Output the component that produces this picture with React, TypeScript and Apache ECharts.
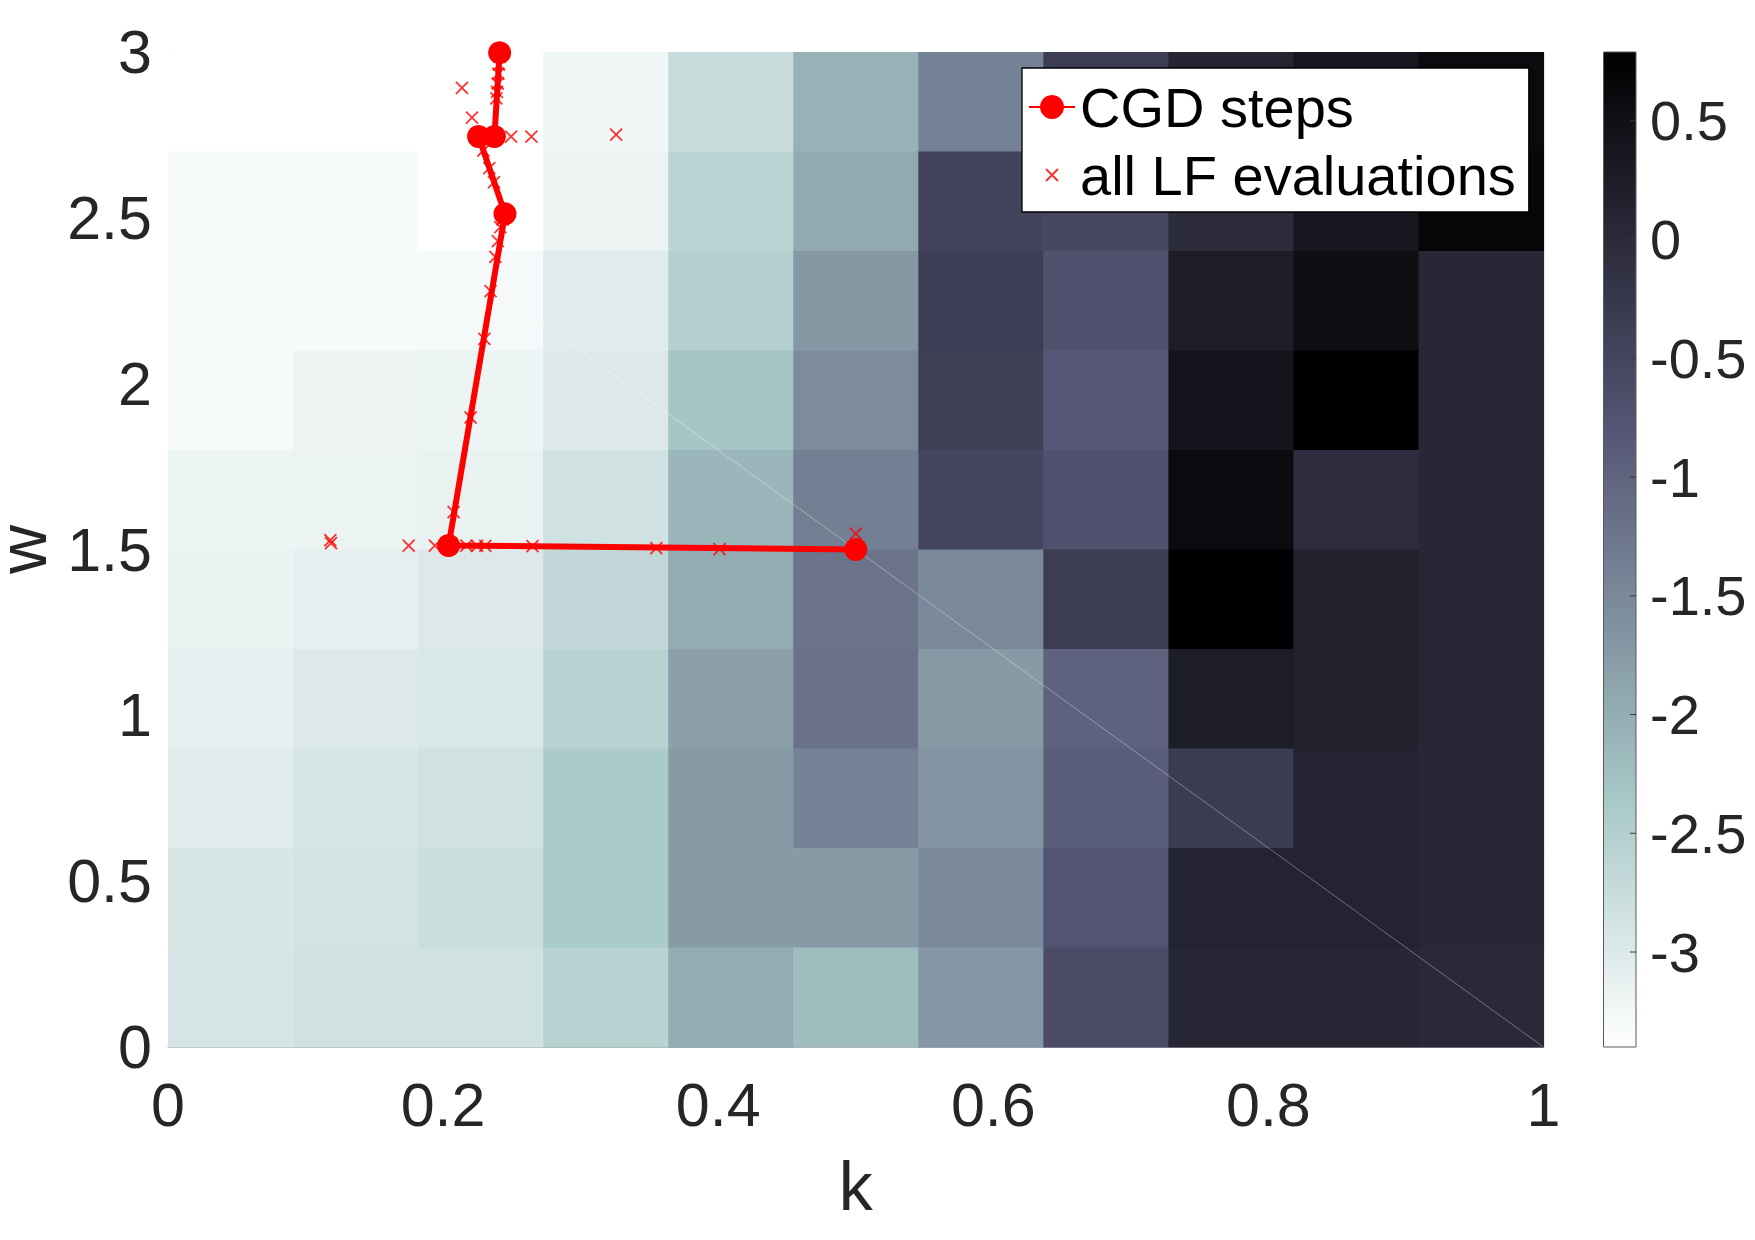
import React, { useEffect, useRef } from "react";
import * as echarts from "echarts";

const FONT = '"Liberation Sans", Arial, Helvetica, sans-serif';
const TEXT = "#262626";

// Axis limits and tick spacing
const kLimits = [0, 1];
const wLimits = [0, 3];
const kTickStep = 0.2;
const wTickStep = 0.5;

// The likelihood surface is sampled on 11 (k) x 10 (w) cells
const kCellCount = 11;
const wCellCount = 10;

// Log-likelihood per cell; first row is the top band (w 2.7-3.0),
// last row the bottom band (w 0-0.3); columns run from k = 0 to k = 1
const wBand2_7: number[] = [-3.40, -3.40, -3.40, -3.23, -2.74, -2.06, -1.41, -0.34, 0.11, 0.38, 0.59];
const wBand2_4: number[] = [-3.30, -3.30, -3.40, -3.18, -2.60, -1.94, -0.45, -0.53, -0.04, 0.36, 0.68];
const wBand2_1: number[] = [-3.31, -3.30, -3.28, -3.03, -2.52, -1.72, -0.36, -0.71, 0.25, 0.53, 0.06];
const wBand1_8: number[] = [-3.28, -3.20, -3.19, -2.99, -2.33, -1.55, -0.38, -0.84, 0.42, 0.79, 0.06];
const wBand1_5: number[] = [-3.19, -3.17, -3.14, -2.83, -2.12, -1.37, -0.51, -0.71, 0.59, -0.06, 0.06];
const wBand1_2: number[] = [-3.16, -3.10, -2.99, -2.67, -1.97, -1.22, -1.50, -0.34, 0.79, 0.15, 0.06];
const wBand0_9: number[] = [-3.10, -2.99, -2.95, -2.55, -1.82, -1.20, -1.75, -0.98, 0.25, 0.15, 0.06];
const wBand0_6: number[] = [-3.04, -2.91, -2.84, -2.40, -1.75, -1.41, -1.67, -0.90, -0.32, 0.13, 0.06];
const wBand0_3: number[] = [-2.94, -2.87, -2.78, -2.40, -1.75, -1.75, -1.53, -0.76, 0.13, 0.13, 0.06];
const wBand0_0: number[] = [-2.91, -2.84, -2.84, -2.55, -1.97, -2.20, -1.69, -0.62, 0.08, 0.08, 0.02];
const logLikelihoodRows = [
  wBand2_7, wBand2_4, wBand2_1, wBand1_8, wBand1_5,
  wBand1_2, wBand0_9, wBand0_6, wBand0_3, wBand0_0,
];

// Colour scale limits and tick values of the colour bar
const colorLimits = [-3.4, 0.79];
const colorTickStep = 0.5;
const colorTicks = [-3, -2.5, -2, -1.5, -1, -0.5, 0, 0.5];

// Reversed "bone" colormap, low values white -> high values black
const boneReversed = [
  "#ffffff", "#d3e3e3", "#a7c7c7", "#8ba1ab", "#707a8f",
  "#545474", "#38384d", "#1c1c27", "#000000",
];

// Accepted conjugate-gradient iterates [k, w]
const cgdSteps: number[][] = [
  [0.5, 1.5],
  [0.204, 1.512],
  [0.245, 2.512],
  [0.2258, 2.745],
  [0.2373, 2.745],
  [0.2411, 2.998],
];

// Every likelihood-function evaluation [k, w]
const lfEvaluations: number[][] = [
  [0.118, 1.528], [0.1185, 1.519], [0.175, 1.512], [0.194, 1.512],
  [0.217, 1.512], [0.2247, 1.511], [0.2307, 1.511], [0.265, 1.51],
  [0.355, 1.504], [0.401, 1.501], [0.5, 1.548],
  [0.2077, 1.613], [0.22, 1.898], [0.23, 2.135], [0.2345, 2.279],
  [0.238, 2.382], [0.2398, 2.43], [0.2416, 2.472], [0.2432, 2.495],
  [0.237, 2.608], [0.2336, 2.65], [0.2293, 2.703],
  [0.221, 2.802], [0.2137, 2.892],
  [0.2494, 2.745], [0.2642, 2.745], [0.3258, 2.751],
  [0.2387, 2.86], [0.2392, 2.88], [0.2397, 2.905], [0.2402, 2.935],
  [0.2406, 2.962], [0.241, 2.985],
];

// Faint triangulation seam of the rendered surface
const surfaceSeam: number[][] = [
  [0.2727, 2.182],
  [1, 0],
];

const CROSS = "path://M0,0L10,10M10,0L0,10";
const LEGEND_CROSS = "path://M0,0M30,30M9,9L21,21M21,9L9,21";

const dk = (kLimits[1] - kLimits[0]) / kCellCount;
const dw = (wLimits[1] - wLimits[0]) / wCellCount;

const heatCells: number[][] = [];
logLikelihoodRows.forEach((row, r) => {
  row.forEach((v, c) => {
    heatCells.push([kLimits[0] + (c + 0.5) * dk, wLimits[1] - (r + 0.5) * dw, v]);
  });
});

const colorbarStops = boneReversed
  .slice()
  .reverse()
  .map((color, i, arr) => ({ offset: i / (arr.length - 1), color }));

function buildOption(): any {
  return {
    animation: false,
    backgroundColor: "#ffffff",
    textStyle: { fontFamily: FONT },
    grid: [
      { left: 168, top: 52, width: 1375.5, height: 995, outerBoundsMode: "none" },
      { left: 1603.5, top: 52, width: 32.5, height: 995, outerBoundsMode: "none" },
    ],
    xAxis: [
      {
        gridIndex: 0,
        type: "value",
        min: kLimits[0],
        max: kLimits[1],
        interval: kTickStep,
        axisLine: { show: true, onZero: false, lineStyle: { color: "#a8a8a8", width: 1 } },
        axisTick: { show: false },
        splitLine: { show: false },
        axisLabel: { fontSize: 61, color: TEXT, fontFamily: FONT, margin: 27 },
        name: "k",
        nameLocation: "middle",
        nameGap: 105,
        nameTextStyle: { fontSize: 68, color: TEXT, fontFamily: FONT },
      },
      { gridIndex: 1, type: "value", min: 0, max: 1, show: false },
    ],
    yAxis: [
      {
        gridIndex: 0,
        type: "value",
        min: wLimits[0],
        max: wLimits[1],
        interval: wTickStep,
        axisLine: { show: true, onZero: false, lineStyle: { color: "#c4c4c4", width: 1 } },
        axisTick: { show: false },
        splitLine: { show: false },
        axisLabel: { fontSize: 61, color: TEXT, fontFamily: FONT, margin: 16 },
        name: "w",
        nameLocation: "middle",
        nameGap: 124,
        nameRotate: 90,
        nameTextStyle: { fontSize: 68, lineHeight: 40, color: TEXT, fontFamily: FONT },
      },
      {
        gridIndex: 1,
        type: "value",
        position: "right",
        min: colorLimits[0],
        max: colorLimits[1],
        splitNumber: 8,
        minInterval: colorTickStep,
        maxInterval: colorTickStep,
        axisLine: { show: false, onZero: false },
        axisTick: { show: false },
        splitLine: { show: false },
        axisLabel: {
          fontSize: 56,
          color: TEXT,
          fontFamily: FONT,
          margin: 14,
          showMinLabel: false,
          showMaxLabel: false,
        },
      },
    ],
    visualMap: {
      type: "continuous",
      show: false,
      seriesIndex: 0,
      dimension: 2,
      min: colorLimits[0],
      max: colorLimits[1],
      inRange: { color: boneReversed },
    },
    legend: {
      show: true,
      orient: "vertical",
      left: 1022,
      top: 68,
      backgroundColor: "#ffffff",
      borderColor: "#000000",
      borderWidth: 1.3,
      padding: [11, 13, 9, 6],
      itemGap: 12,
      itemWidth: 46,
      itemHeight: 30,
      selectedMode: false,
      textStyle: { fontSize: 56, color: "#000000", fontFamily: FONT },
      data: [
        { name: "CGD steps" },
        { name: "all LF evaluations", icon: LEGEND_CROSS },
      ],
    },
    series: [
      {
        type: "custom",
        xAxisIndex: 0,
        yAxisIndex: 0,
        silent: true,
        z: 1,
        data: heatCells,
        encode: { x: 0, y: 1 },
        renderItem: (_params: any, api: any) => {
          const k = api.value(0);
          const w = api.value(1);
          const p0 = api.coord([k - dk / 2, w + dw / 2]);
          const p1 = api.coord([k + dk / 2, w - dw / 2]);
          return {
            type: "rect",
            shape: {
              x: p0[0],
              y: p0[1],
              width: p1[0] - p0[0] + 0.6,
              height: p1[1] - p0[1] + 0.6,
            },
            style: { fill: api.visual("color") },
          };
        },
      },
      {
        // colour bar: gradient strip with short inward ticks on its right edge
        type: "custom",
        xAxisIndex: 1,
        yAxisIndex: 1,
        silent: true,
        z: 1,
        data: [[0, colorLimits[0]]],
        renderItem: (_params: any, api: any) => {
          const a = api.coord([0, colorLimits[1]]);
          const b = api.coord([1, colorLimits[0]]);
          const ticks = colorTicks.map((t) => {
            const p = api.coord([1, t]);
            return {
              type: "line",
              shape: { x1: b[0] - 6, y1: p[1], x2: b[0], y2: p[1] },
              style: { stroke: "#3a3a3a", lineWidth: 1 },
            };
          });
          return {
            type: "group",
            children: [
              {
                type: "rect",
                shape: { x: a[0], y: a[1], width: b[0] - a[0], height: b[1] - a[1] },
                style: {
                  fill: { type: "linear", x: 0, y: 0, x2: 0, y2: 1, colorStops: colorbarStops },
                  stroke: "#5a5a5a",
                  lineWidth: 1,
                },
              },
              ...ticks,
            ],
          };
        },
      },
      {
        type: "line",
        xAxisIndex: 0,
        yAxisIndex: 0,
        silent: true,
        data: surfaceSeam,
        symbol: "none",
        lineStyle: { color: "rgba(255,255,255,0.35)", width: 1 },
        z: 2,
      },
      {
        type: "line",
        name: "CGD steps",
        xAxisIndex: 0,
        yAxisIndex: 0,
        data: cgdSteps,
        symbol: "circle",
        symbolSize: 23,
        clip: false,
        lineStyle: { color: "#ff0000", width: 6 },
        itemStyle: { color: "#ff0000" },
        z: 4,
      },
      {
        type: "scatter",
        name: "all LF evaluations",
        xAxisIndex: 0,
        yAxisIndex: 0,
        data: lfEvaluations,
        symbol: CROSS,
        symbolSize: 12,
        itemStyle: { color: "rgba(255,0,0,0)", borderColor: "#ff0000", borderWidth: 1.8 },
        z: 5,
      },
    ],
  };
}

export default function App() {
  const ref = useRef<HTMLDivElement>(null);
  useEffect(() => {
    if (!ref.current) return;
    const chart = echarts.init(ref.current, null, { renderer: "svg" });
    chart.setOption(buildOption());
    return () => chart.dispose();
  }, []);
  return (
    <div
      ref={ref}
      style={{ position: "absolute", left: 0, top: 0, width: 1755, height: 1240, background: "#fff" }}
    />
  );
}
